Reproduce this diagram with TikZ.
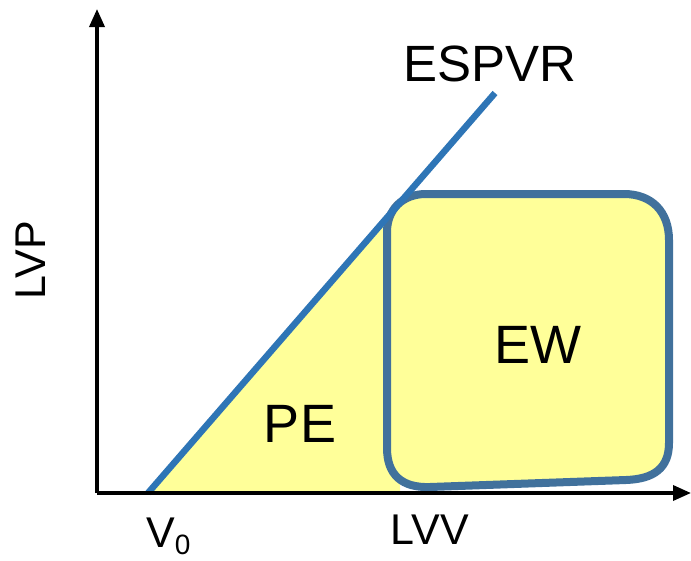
\documentclass[tikz,border=0pt]{standalone}
\usepackage{fontspec}
\setmainfont{Liberation Sans}
\usetikzlibrary{arrows.meta}
\definecolor{lineblue}{HTML}{2E75B6}
\definecolor{loopblue}{HTML}{41719C}
\definecolor{pvyellow}{HTML}{FFFF99}
\tikzset{
  axis/.style={line width=3.5pt,-{Triangle[length=18pt,width=15pt]}},
  lbl/.style={inner sep=0pt,anchor=center},
}
\begin{document}
\begin{tikzpicture}[x=1pt,y=-1pt]
\useasboundingbox (0,0) rectangle (691,560);
\coordinate (origin) at (97,493);
\coordinate (ytop) at (97,9);
\coordinate (xend) at (691,493);
\coordinate (v0) at (148,493);
\coordinate (eend) at (495,93);
% PE triangle
\fill[pvyellow] (v0) -- (400,203) -- (400,493) -- cycle;
% EW loop
\draw[loopblue,fill=pvyellow,line width=8pt]
  (387,232) -- (387,448) .. controls (387,475) and (402,488) .. (430,487)
  -- (626,480) .. controls (654,479) and (669,468) .. (669,443)
  -- (669,240) .. controls (669,212) and (652,194) .. (624,194)
  -- (426,194) .. controls (402,194) and (387,210) .. (387,232) -- cycle;
% ESPVR line
\draw[lineblue,line width=6.5pt] (v0) -- (eend);
% axes
\draw[axis] (origin) -- (ytop);
\draw[axis] (origin) -- (xend);
% labels
\node[lbl,font=\fontsize{51}{55}\selectfont] (espvr) at (490,64) {ESPVR};
\node[lbl,font=\fontsize{54}{58}\selectfont] (pe) at (300,424) {PE};
\node[lbl,font=\fontsize{54}{58}\selectfont] (ew) at (538,345) {EW};
\node[lbl,font=\fontsize{43}{46}\selectfont,rotate=90] (lvp) at (31,260) {LVP};
\node[lbl,font=\fontsize{43}{46}\selectfont,anchor=base west] (v0l) at (146,547) {V\raisebox{-7pt}{\fontsize{28}{28}\selectfont 0}};
\node[lbl,font=\fontsize{43}{46}\selectfont] (lvv) at (430,530) {LVV};
\end{tikzpicture}
\end{document}
